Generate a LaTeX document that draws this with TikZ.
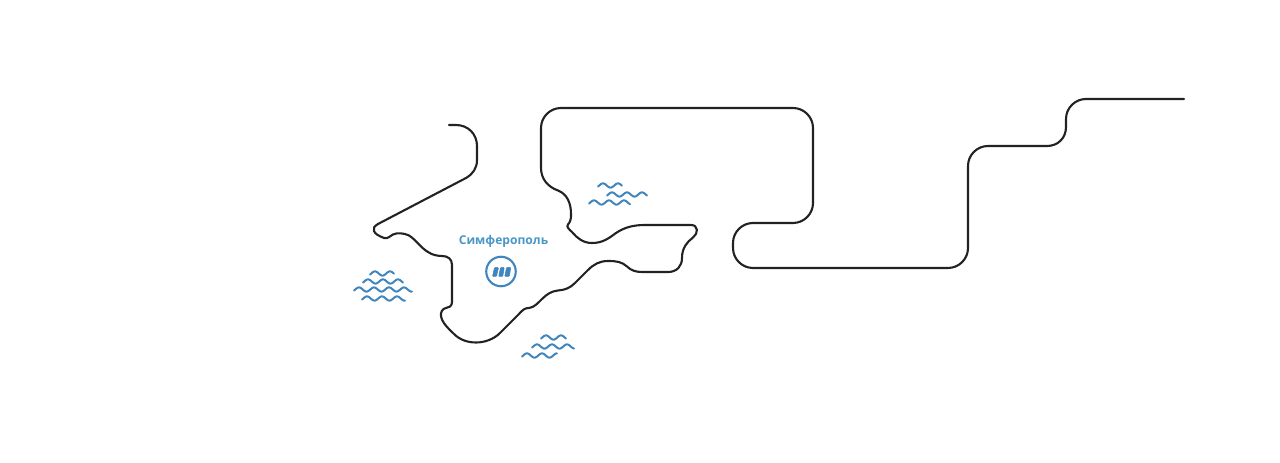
\documentclass[tikz,border=0pt]{standalone}
\usepackage{fontspec}
\setmainfont{Open Sans}
\definecolor{coastc}{HTML}{222222}
\definecolor{wavec}{HTML}{3F85BE}
\definecolor{labelc}{HTML}{4A97C6}
\newcommand{\seawave}[3]{%
  \draw[wavestroke] plot[domain=#1:#2,samples=50,smooth] (\x,{#3-2.1*cos(24*(\x-#1-5))});}
\tikzset{
  coast/.style={draw=coastc,line width=2.1bp,line cap=round,line join=round},
  wavestroke/.style={draw=wavec,line width=2bp,line cap=round},
  citylabel/.style={text=labelc,font=\fontsize{12.1bp}{14bp}\selectfont\bfseries,inner sep=0pt},
  cityring/.style={circle,draw=wavec,line width=2.1bp,minimum size=29.5bp,inner sep=0pt},
  citybar/.style={fill=wavec,draw=wavec,line width=0.5bp,line join=round}
}
\begin{document}
\begin{tikzpicture}[x=1bp,y=-1bp]
\useasboundingbox (0,0) rectangle (1280,463);
\fill[white] (0,0) rectangle (1280,463);
% coast
\draw[coast] (449,125) -- (456,125) .. controls (468,125) and (477,134) .. (477,146) -- (477,160)
 .. controls (477,168) and (473,174) .. (466,178) -- (378,224)
 .. controls (374,226.5) and (373,228) .. (374,231)
 .. controls (375,234) and (379,236) .. (384,238)
 .. controls (388,239) and (390,236) .. (393,234.5)
 .. controls (397,232.5) and (404,233) .. (409,235.5)
 .. controls (415,239) and (421,248) .. (428,252)
 .. controls (432,255) and (438,256) .. (442,256)
 .. controls (448,256) and (452,259) .. (452,265) -- (452,302)
 .. controls (452,306) and (449,308) .. (446,308)
 .. controls (442,308.5) and (440.5,313) .. (441,316)
 .. controls (442,323) and (449,329) .. (454,334)
 .. controls (460,340) and (468,342.5) .. (476,342.5)
 .. controls (485,342.5) and (494,339) .. (500,333) -- (519,314)
 .. controls (523,309.5) and (525,308) .. (529,308)
 .. controls (534,307.5) and (538,303) .. (542,299)
 .. controls (547,294) and (552,291) .. (558,290.5)
 .. controls (565,290) and (570,288) .. (575,283) -- (588,270)
 .. controls (594,264) and (600,261) .. (608,261)
 .. controls (617,261) and (622,262) .. (627,266.5)
 .. controls (631,270.5) and (636,272) .. (642,272) -- (668,272)
 .. controls (677,272) and (682,266) .. (682,258)
 .. controls (682,248) and (687,242) .. (693,237.5)
 .. controls (698.5,233.5) and (698.5,225) .. (691,225) -- (645,225)
 .. controls (634,225) and (625,227) .. (616,233)
 .. controls (608,239) and (602,243) .. (592,243)
 .. controls (583,243) and (577,238) .. (572,232)
 .. controls (569,229) and (566,227) .. (568,224.5)
 .. controls (571,221) and (571,218) .. (571,214)
 .. controls (571,203) and (567,194) .. (558,190.5)
 .. controls (548,187) and (541,179) .. (541,168) -- (541,128)
 .. controls (541,117) and (550,108) .. (561,108) -- (793,108)
 .. controls (804,108) and (813,117) .. (813,128) -- (813,203)
 .. controls (813,214) and (804,223) .. (793,223) -- (753,223)
 .. controls (742,223) and (733,232) .. (733,243) -- (733,248)
 .. controls (733,259) and (742,268) .. (753,268) -- (948,268)
 .. controls (959,268) and (968,259) .. (968,248) -- (968,166)
 .. controls (968,155) and (977,146) .. (988,146) -- (1047,146)
 .. controls (1058,146) and (1066,138) .. (1066,127) -- (1066,119)
 .. controls (1066,108) and (1075,99) .. (1086,99) -- (1184,99);
% waves
\seawave{370}{394}{273.5}
\seawave{363}{403}{281.5}
\seawave{354}{412}{289.5}
\seawave{362}{405}{298.5}
\seawave{541}{566}{337.5}
\seawave{532}{574}{346.5}
\seawave{522}{557}{355.5}
\seawave{598}{622}{185.5}
\seawave{607}{647}{194.5}
\seawave{589}{630}{202.5}
% city
\node[citylabel] (city) at (503.5,241) {Симферополь};
\node[cityring] (ring) at (501,271.5) {};
\fill[citybar,rounded corners=0.8bp] (492.5,276.5) -- (494.5,267.5) -- (498.5,267.5) -- (496.5,276.5) -- cycle;
\fill[citybar,rounded corners=0.8bp] (498.7,276.5) -- (500.5,267.5) -- (504.3,267.5) -- (502.7,276.5) -- cycle;
\fill[citybar,rounded corners=0.8bp] (504.8,276.5) -- (506.5,267.5) -- (510.8,267.5) -- (509.3,276.5) -- cycle;
\end{tikzpicture}
\end{document}
